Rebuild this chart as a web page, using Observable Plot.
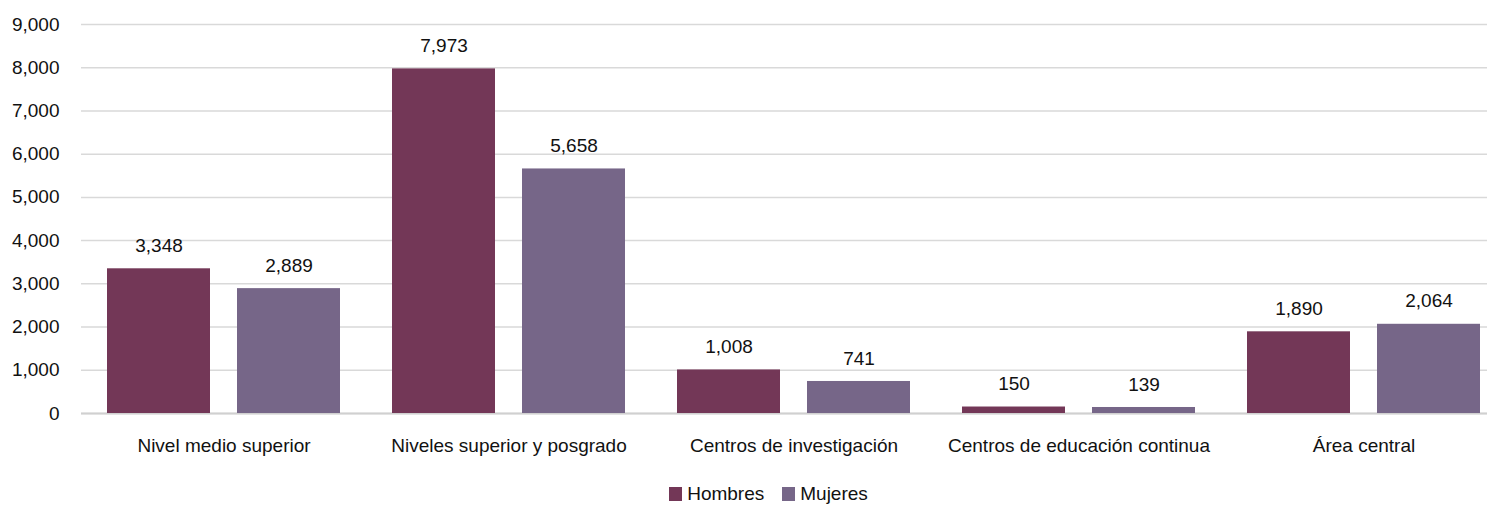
<!DOCTYPE html>
<html>
<head>
<meta charset="utf-8">
<script src="https://cdn.jsdelivr.net/npm/d3@7"></script>
<script src="https://cdn.jsdelivr.net/npm/@observablehq/plot@0.6"></script>
<style>
  body { margin: 0; background: #fff; font-family: "Liberation Sans", sans-serif; }
  #chart { width: 1487px; height: 505px; overflow: hidden; position: relative; }
  .legend { display: flex; justify-content: center; align-items: center; gap: 18px; font-size: 19px; line-height: 22px; color: #111; margin-left: 50px; margin-top: 15px; }
  .legend span.item { display: flex; align-items: center; gap: 5px; }
  .legend span.sw { display: inline-block; width: 13px; height: 14px; }
</style>
</head>
<body>
<div id="chart"></div>
<script>
const categories = ["Nivel medio superior", "Niveles superior y posgrado", "Centros de investigación", "Centros de educación continua", "Área central"];
const series = ["Hombres", "Mujeres"];
const hombres = [3348, 7973, 1008, 150, 1890];
const mujeres = [2889, 5658, 741, 139, 2064];
const colors = ["#733757", "#766688"];
const yTicks = [0, 1000, 2000, 3000, 4000, 5000, 6000, 7000, 8000, 9000];

const data = [];
categories.forEach((c, i) => {
  data.push({category: c, sex: "Hombres", value: hombres[i]});
  data.push({category: c, sex: "Mujeres", value: mujeres[i]});
});

const fmt = d3.format(",");
const font = "Liberation Sans, sans-serif";

const plot = Plot.plot({
  width: 1487,
  height: 468,
  marginLeft: 80,
  marginRight: -20,
  marginTop: 24,
  marginBottom: 55,
  style: {fontFamily: font, fontSize: "19px", color: "#111", background: "#fff", overflow: "visible"},
  fx: {domain: categories, padding: 0, label: null},
  x: {domain: series, paddingInner: 0.21, paddingOuter: 0.2, axis: null},
  y: {domain: [0, 9000], axis: null},
  color: {domain: series, range: colors},
  marks: [
    Plot.gridY(yTicks, {stroke: "#d9d9d9", strokeOpacity: 1, strokeWidth: 1.5}),
    Plot.ruleY([0], {stroke: "#d0d0d0", strokeWidth: 2}),
    Plot.axisY(yTicks, {tickSize: 0, tickPadding: 22, tickFormat: fmt, label: null, fontSize: 19}),
    Plot.axisFx({anchor: "bottom", tickSize: 0, tickPadding: 25, label: null, fontSize: 19}),
    Plot.barY(data, {fx: "category", x: "sex", y: "value", fill: "sex"}),
    Plot.text(data, {fx: "category", x: "sex", y: "value", text: d => fmt(d.value), dy: -23, fontSize: 19, fill: "#111"})
  ]
});

const chart = document.getElementById("chart");
chart.appendChild(plot);

const legend = document.createElement("div");
legend.className = "legend";
series.forEach((s, i) => {
  const item = document.createElement("span");
  item.className = "item";
  const sw = document.createElement("span");
  sw.className = "sw";
  sw.style.background = colors[i];
  item.appendChild(sw);
  item.appendChild(document.createTextNode(s));
  legend.appendChild(item);
});
chart.appendChild(legend);
</script>
</body>
</html>
